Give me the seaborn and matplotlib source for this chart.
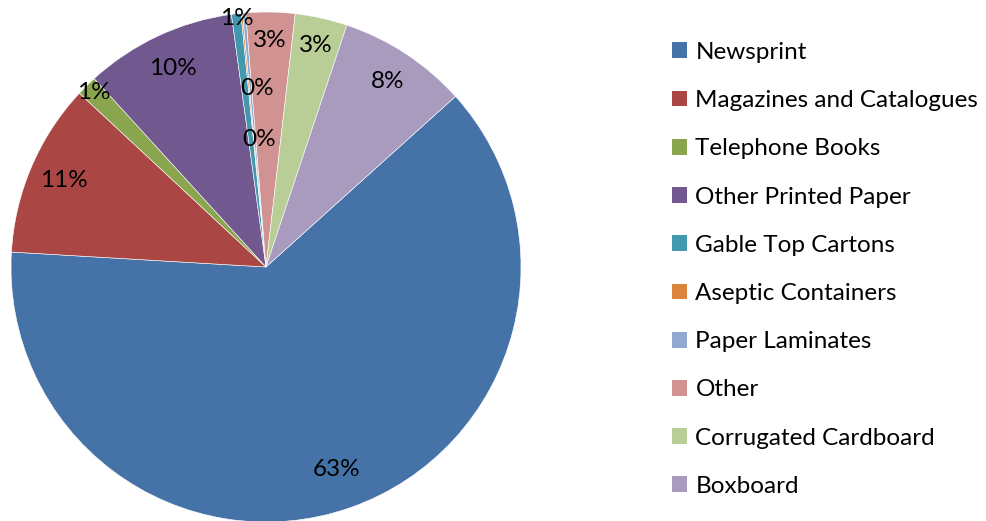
import numpy as np
import seaborn as sns
import matplotlib.pyplot as plt
from matplotlib.patches import Patch

sns.set_theme(style="white")
plt.rcParams['font.family'] = ['Lato', 'DejaVu Sans']

categories = ["Newsprint", "Magazines and Catalogues", "Telephone Books", "Other Printed Paper",
              "Gable Top Cartons", "Aseptic Containers", "Paper Laminates", "Other",
              "Corrugated Cardboard", "Boxboard"]
shares = [62.6, 11.0, 1.3, 9.6, 0.6, 0.1, 0.2, 3.1, 3.3, 8.2]
colors = ["#4572A7", "#AA4643", "#89A54E", "#71588F", "#4198AF",
          "#DB843D", "#93A9CF", "#D19392", "#B9CD96", "#A99BBD"]
# radial position of each % label (fraction of radius) and small angle nudge (deg)
label_r = [0.84, 0.86, 0.96, 0.86, 0.98, 0.70, 0.50, 0.89, 0.89, 0.87]
label_da = [0, 0, 0, 0, 0, -2.5, -2, 0, 0, 0]

fig = plt.figure(figsize=(9.87, 5.21), dpi=100)
ax = fig.add_axes([11/987, -1/521, 510/987, 510/521])
wedges, _ = ax.pie(shares, colors=colors, startangle=42, counterclock=False,
                   radius=1, wedgeprops=dict(edgecolor="white", linewidth=0.4))
ax.set_xlim(-1, 1)
ax.set_ylim(-1, 1)
ax.set_aspect("equal")
ax.axis("off")

total = sum(shares)
for w, v, r, da in zip(wedges, shares, label_r, label_da):
    ang = np.deg2rad((w.theta1 + w.theta2) / 2 + da)
    ax.text(r * np.cos(ang), r * np.sin(ang), f"{round(100 * v / total):.0f}%",
            ha="center", va="center", fontsize=17.5, color="black")

handles = [Patch(facecolor=c, edgecolor="none") for c in colors]
fig.legend(handles, categories, loc="upper left", bbox_to_anchor=(650/987, 1 - 20/521),
           frameon=False, fontsize=17.5, handlelength=0.62, handleheight=0.62,
           handletextpad=0.35, labelspacing=1.12, labelcolor="black")

fig.savefig("out.png", dpi=100)
